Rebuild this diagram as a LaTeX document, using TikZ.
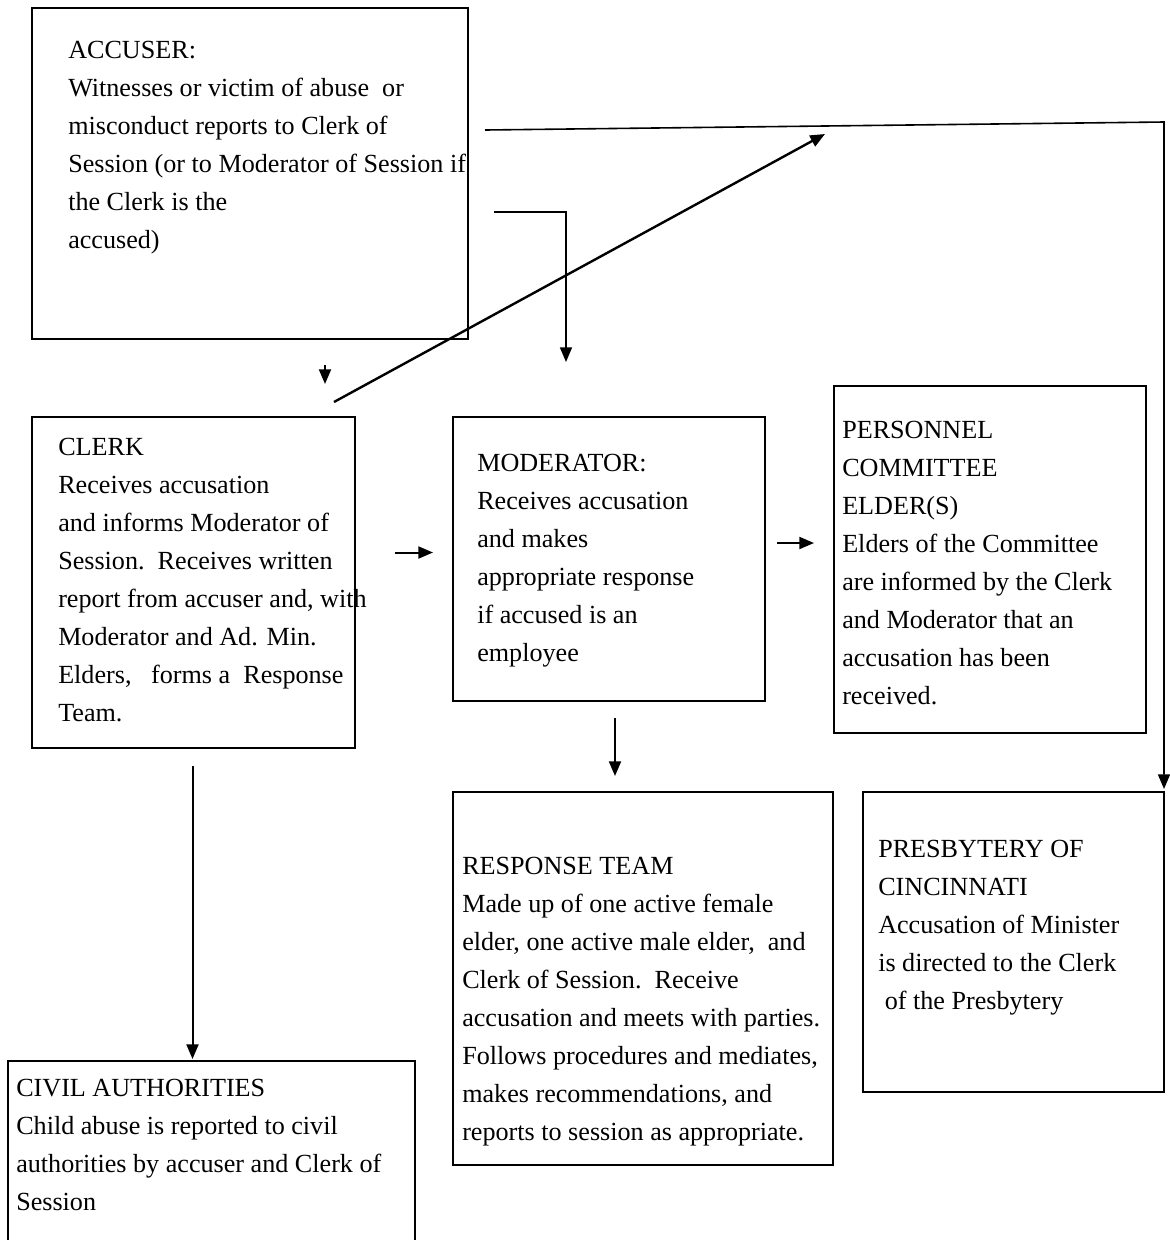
\documentclass[tikz,border=0pt]{standalone}
\usepackage{fontspec}
\setmainfont{Liberation Serif}
\usepackage{tikz}
\usetikzlibrary{arrows.meta, calc}

\begin{document}
\begin{tikzpicture}[x=0.75pt, y=-0.75pt,
  font=\fontsize{19.6}{28.5}\selectfont,
  box/.style={rectangle, draw=black, line width=1.2pt, anchor=north west,
    inner sep=0pt, outer sep=0pt},
  txt/.style={anchor=north west, align=left, inner sep=0pt},
  arr/.style={-{Triangle[length=11pt, width=9pt]}, line width=1.5pt}]
  \clip (0,0) rectangle (1170,1240);
  \node[box, minimum width=327pt, minimum height=248.25pt] (accuser) at (32,8) {};
  \node[box, minimum width=242.25pt, minimum height=248.25pt] (clerk) at (32,417) {};
  \node[box, minimum width=234pt, minimum height=213pt] (moderator) at (453,417) {};
  \node[box, minimum width=234pt, minimum height=260.25pt] (personnel) at (834,386) {};
  \node[box, minimum width=285pt, minimum height=279.75pt] (response) at (453,792) {};
  \node[box, minimum width=225.75pt, minimum height=225pt] (presbytery) at (863,792) {};
  \node[box, minimum width=305.25pt, minimum height=150pt] (civil) at (8,1061) {};
  \node[txt] (accuser-t) at (68,41) {ACCUSER:\\Witnesses or victim of abuse\ \ or\\misconduct reports to Clerk of\\Session (or to Moderator of Session if\\the Clerk is the\\accused)};
  \node[txt] (clerk-t) at (58,438) {CLERK\\Receives accusation\\and informs Moderator of\\Session.\ \ Receives written\\report from accuser and, with\\Moderator and Ad. Min.\\Elders,\ \ \ forms a\ \ Response\\Team.};
  \node[txt] (moderator-t) at (477,454) {MODERATOR:\\Receives accusation\\and makes\\appropriate response\\if accused is an\\employee};
  \node[txt] (personnel-t) at (842,421) {PERSONNEL\\COMMITTEE\\ELDER(S)\\Elders of the Committee\\are informed by the Clerk\\and Moderator that an\\accusation has been\\received.};
  \node[txt] (response-t) at (462,857) {RESPONSE TEAM\\Made up of one active female\\elder, one active male elder,\ \ and\\Clerk of Session.\ \ Receive\\accusation and meets with parties.\\Follows procedures and mediates,\\makes recommendations, and\\reports to session as appropriate.};
  \node[txt] (presbytery-t) at (878,840) {PRESBYTERY OF\\CINCINNATI\\Accusation of Minister\\is directed to the Clerk\\\ of the Presbytery};
  \node[txt] (civil-t) at (16,1079) {CIVIL AUTHORITIES\\Child abuse is reported to civil\\authorities by accuser and Clerk of\\Session};
  \draw[arr] ($(accuser.south west)+(293,26)$) -- ($(clerk.north east)+(-30,-33)$);
  \draw[arr, line width=1.8pt] ($(clerk.north east)+(-21,-15)$) -- ($(personnel.north west)+(-9,-252)$);
  \draw[arr, line width=1.2pt] ($(accuser.north east)+(17,122)$) -- ($(presbytery.north east)+(0,-670)$) -- ($(presbytery.north east)+(0,-3)$);
  \draw[arr, line width=1.2pt] ($(accuser.north east)+(26,204)$) -| ($(moderator.north west)+(113,-55)$);
  \draw[arr] ($(clerk.east)+(40,-30)$) -- ($(moderator.west)+(-20,-6.5)$);
  \draw[arr] ($(moderator.east)+(12,-16)$) -- ($(personnel.west)+(-20,-16.5)$);
  \draw[arr] ($(moderator.south)+(6,17)$) -- ($(response.north)+(-28,-16)$);
  \draw[arr] ($(clerk.south)+(-1,18)$) -- ($(civil.north)+(-19,-2)$);
\end{tikzpicture}
\end{document}
